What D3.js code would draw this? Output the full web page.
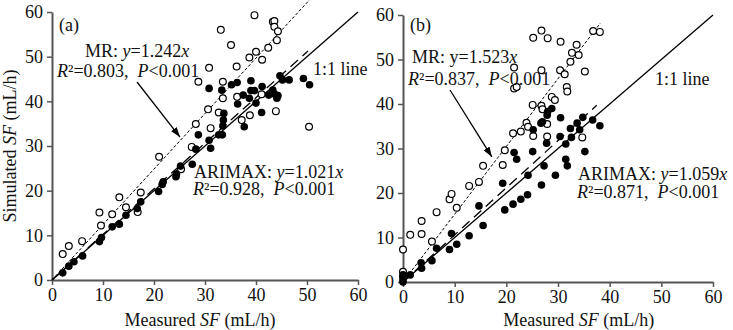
<!DOCTYPE html>
<html>
<head>
<meta charset="utf-8">
<script src="https://cdn.jsdelivr.net/npm/d3@7"></script>
<style>
  body { margin: 0; background: #fff; }
  svg text { font-family: "Liberation Serif", "Times New Roman", serif; white-space: pre; }
</style>
</head>
<body>
<script>
// panel (a): measured vs simulated sap flow
var aMrX = [2.1,3.3,5.9,9.3,9.6,11.8,13.2,14.5,16.8,17.4,21.0,25.3,27.4,28.2,28.7,30.6,30.8,31.1,32.7,33.1,33.5,33.5,35.1,36.2,36.3,37.2,38.7,38.8,39.7,40.0,41.1,41.2,42.4,43.3,43.6,43.6,43.9,44.1,44.3,50.4];
var aMrY = [5.8,7.6,8.7,15.1,12.2,14.7,18.5,16.3,15.2,19.6,27.6,24.8,29.8,34.9,44.4,38.2,47.5,34.0,37.5,56.0,40.7,44.4,52.6,47.8,41.0,35.8,49.8,36.9,59.3,51.1,41.6,49.3,52.0,57.8,58.0,56.7,37.8,53.7,55.7,34.3];
var aArX = [2.1,3.3,4.3,6.0,9.3,9.7,11.8,13.2,14.5,16.7,17.4,20.9,21.8,21.6,24.3,24.4,25.2,27.5,28.2,28.7,31.1,30.8,32.7,33.4,33.5,33.6,33.7,30.8,33.3,35.2,36.3,36.4,37.7,37.5,38.7,39.0,39.0,39.7,40.0,41.1,41.2,42.5,43.3,43.7,44.1,44.3,44.7,45.2,46.5,49.3,50.5];
var aArY = [1.6,3.1,4.1,5.4,8.6,9.5,11.9,12.5,14.5,16.0,17.5,19.8,22.0,21.4,23.1,23.7,25.5,25.9,29.3,32.5,29.5,31.3,32.5,32.5,34.5,35.8,37.3,42.9,42.5,43.7,44.2,39.4,34.3,41.4,40.7,42.4,44.6,42.4,39.6,37.5,43.3,41.4,42.5,41.6,40.7,41.3,45.7,44.8,44.8,45.1,43.7];

// panel (b)
var bMrX = [0,0,0,1.4,3.6,3.6,5.6,6.5,9.0,9.4,10.4,12.8,14.7,15.5,19.3,19.7,21.3,22.8,23.9,24.2,25.2,25.1,26.8,27.0,27.9,27.9,21.5,22.0,21.5,26.8,25.2,26.8,28.0,30.5,28.8,29.4,30.4,31.3,31.7,31.8,32.4,32.7,33.6,34.0,35.2,34.7,36.8,38.1];
var bMrY = [7.3,2.3,1.2,10.6,13.7,10.8,9.1,15.7,18.6,19.8,16.7,21.6,22.5,26.1,26.3,29.6,33.4,33.8,35.8,34.9,32.8,39.8,39.6,38.8,35.5,32.7,43.5,43.8,48.2,47.6,54.9,56.5,54.8,54.0,41.6,40.9,47.6,46.7,43.8,42.8,49.5,51.5,53.3,51.0,47.3,32.5,56.4,56.2];
var bArX = [0,0,0,1.4,3.5,3.6,5.6,6.5,9.0,9.4,10.4,12.8,14.7,15.5,19.3,19.7,21.3,22.8,24.1,24.2,26.8,27.3,29.5,31.8,21.5,22.0,25.1,25.2,26.7,27.0,27.9,28.0,28.8,27.8,30.5,30.4,31.5,31.5,32.4,32.6,33.7,34.2,34.8,35.2,36.7,38.1];
var bArY = [0,0.5,1.6,1.6,4.3,3.1,4.8,7.6,7.3,10.9,8.5,10.4,17.1,12.7,22.2,16.2,17.5,18.6,19.6,24.0,21.8,26.1,24.0,26.1,29.1,27.6,29.3,34.2,35.7,36.0,37.5,38.3,39.0,31.2,36.9,32.7,27.6,31.0,34.5,32.5,35.7,34.2,37.0,29.3,36.4,35.1];

// regression slopes and how far each fitted line runs
var slopes = { a: { mr: 1.242, ar: 1.021 }, b: { mr: 1.523, ar: 1.059 } };
var lineEnds = { a: { mr: 50.5, ar: 50.2 }, b: { mr: 38.2, ar: 37.5 } };
var ticks = [0, 10, 20, 30, 40, 50, 60];

var W = 733, H = 330;
var svg = d3.select("body").append("svg").attr("width", W).attr("height", H);

svg.append("defs").append("marker")
  .attr("id", "pijl").attr("viewBox", "0 0 10 10")
  .attr("refX", 10).attr("refY", 5)
  .attr("markerWidth", 10).attr("markerHeight", 10)
  .attr("markerUnits", "userSpaceOnUse")
  .attr("orient", "auto")
  .append("path").attr("d", "M0,1.5 L10,5 L0,8.5 Z").attr("fill", "#000");

function tekst(g, x, y, delen) {
  var t = g.append("text").attr("x", x).attr("y", y).attr("font-size", 18).attr("fill", "#111");
  delen.forEach(function (d) {
    var s = t.append("tspan").text(d[0]);
    if (d[1]) s.attr("font-style", "italic");
  });
  return t;
}

function paneel(opt) {
  var x = d3.scaleLinear().domain([0, 60]).range([opt.x0, opt.x1]);
  var y = d3.scaleLinear().domain([0, 60]).range([opt.y0, opt.y1]);
  var g = svg.append("g");

  // axes
  var ax = g.append("g").attr("transform", "translate(0," + opt.y0 + ")")
    .call(d3.axisBottom(x).tickValues(ticks).tickSize(5).tickSizeOuter(0).tickPadding(3));
  var ay = g.append("g").attr("transform", "translate(" + opt.x0 + ",0)")
    .call(d3.axisLeft(y).tickValues(ticks).tickSize(5).tickSizeOuter(0).tickPadding(4));
  [ax, ay].forEach(function (a) {
    a.select(".domain").attr("stroke", "#555").attr("stroke-width", 2);
    a.selectAll(".tick line").attr("stroke", "#555").attr("stroke-width", 1.5);
    a.selectAll(".tick text").attr("font-size", 18).attr("fill", "#111")
      .attr("font-family", "Liberation Serif, serif");
  });

  // 1:1 line and fitted lines
  var lijn = d3.line().x(function (d) { return x(d[0]); }).y(function (d) { return y(d[1]); });
  g.append("path").attr("d", lijn([[0, 0], [60, 60]]))
    .attr("stroke", "#000").attr("stroke-width", 1.3).attr("fill", "none");
  g.append("path").attr("d", lijn([[0, 0], [opt.endAr, opt.endAr * opt.kAr]]))
    .attr("stroke", "#000").attr("stroke-width", 1.3).attr("stroke-dasharray", "10,6").attr("fill", "none");
  g.append("path").attr("d", lijn([[0, 0], [opt.endMr, opt.endMr * opt.kMr]]))
    .attr("stroke", "#000").attr("stroke-width", 1).attr("stroke-dasharray", "3,2").attr("fill", "none");

  // MR: open circles, ARIMAX: filled circles
  g.selectAll("circle.mr").data(d3.zip(opt.mrX, opt.mrY)).enter().append("circle")
    .attr("class", "mr").attr("cx", function (d) { return x(d[0]); }).attr("cy", function (d) { return y(d[1]); })
    .attr("r", 3.4).attr("fill", "#fff").attr("stroke", "#000").attr("stroke-width", 1.2);
  g.selectAll("circle.ar").data(d3.zip(opt.arX, opt.arY)).enter().append("circle")
    .attr("class", "ar").attr("cx", function (d) { return x(d[0]); }).attr("cy", function (d) { return y(d[1]); })
    .attr("r", 3.8).attr("fill", "#000");

  // arrow from the MR label to its line
  g.append("line")
    .attr("x1", opt.pijl[0]).attr("y1", opt.pijl[1])
    .attr("x2", x(opt.pijlPunt[0])).attr("y2", y(opt.pijlPunt[1]))
    .attr("stroke", "#000").attr("stroke-width", 1.3).attr("marker-end", "url(#pijl)");

  // labels
  tekst(g, opt.x0 + 7, 31, [["(" + opt.id + ")", false]]);
  tekst(g, opt.mrPos[0], opt.mrPos[1], [["MR: ", false], ["y", opt.yCursief], ["=" + opt.kMr.toFixed(3), false], ["x", true]]);
  tekst(g, opt.mrPos[0] - 4 + opt.r2dx, opt.mrPos[1] + opt.r2dy, [["R", true], ["\u00b2=" + opt.r2Mr + ",  ", false], ["P", true], ["<0.001", false]]);
  tekst(g, opt.lijnPos[0], opt.lijnPos[1], [["1:1 line", false]]);
  tekst(g, opt.arPos[0], opt.arPos[1], [["ARIMAX: ", false], ["y", true], ["=" + opt.kAr.toFixed(3), false], ["x", true]]);
  tekst(g, opt.arPos[0] - 1, opt.arPos[1] + opt.arDy, [["R", true], ["\u00b2=" + opt.r2Ar + ",  ", false], ["P", true], ["<0.001", false]]);

  g.append("text").attr("x", x(opt.titelX)).attr("y", 326).attr("text-anchor", "middle")
    .attr("font-size", 18).attr("fill", "#111")
    .call(function (t) {
      t.append("tspan").text("Measured ");
      t.append("tspan").attr("font-style", "italic").text("SF");
      t.append("tspan").text(" (mL/h)");
    });
}

paneel({ id: "a", x0: 52, x1: 358, y0: 280, y1: 12,
  mrX: aMrX, mrY: aMrY, arX: aArX, arY: aArY,
  kMr: slopes.a.mr, kAr: slopes.a.ar, endMr: lineEnds.a.mr, endAr: lineEnds.a.ar,
  r2Mr: "0.803", r2Ar: "0.928", yCursief: true,
  mrPos: [85, 57], r2dx: -24, r2dy: 20, lijnPos: [313, 75], arPos: [194, 178], arDy: 17,
  pijl: [137, 82], pijlPunt: [25.1, 32.0], titelX: 29 });

paneel({ id: "b", x0: 403, x1: 713, y0: 282, y1: 15,
  mrX: bMrX, mrY: bMrY, arX: bArX, arY: bArY,
  kMr: slopes.b.mr, kAr: slopes.b.ar, endMr: lineEnds.b.mr, endAr: lineEnds.b.ar,
  r2Mr: "0.837", r2Ar: "0.871", yCursief: false,
  mrPos: [412, 63], r2dx: 0, r2dy: 22, lijnPos: [655, 85], arPos: [578, 180], arDy: 18,
  pijl: [450, 90], pijlPunt: [17.2, 28.1], titelX: 34 });

// shared y-axis title
svg.append("text").attr("transform", "translate(16,146) rotate(-90)")
  .attr("text-anchor", "middle").attr("font-size", 18).attr("fill", "#111")
  .call(function (t) {
    t.append("tspan").text("Simulated ");
    t.append("tspan").attr("font-style", "italic").text("SF");
    t.append("tspan").text(" (mL/h)");
  });
</script>
</body>
</html>
